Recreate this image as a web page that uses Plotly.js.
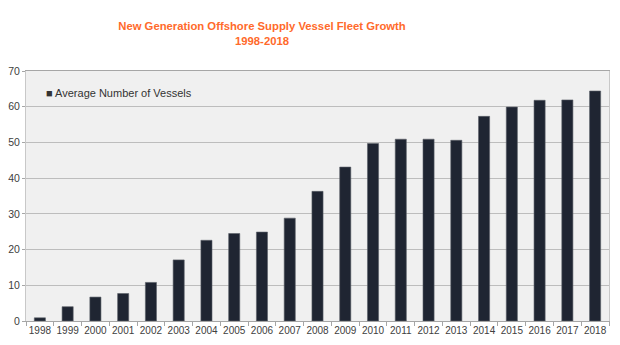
<!DOCTYPE html>
<html>
<head>
<meta charset="utf-8">
<script src="https://cdn.plot.ly/plotly-3.0.1.min.js"></script>
<style>html,body{margin:0;padding:0;background:#fff;}#chart{width:620px;height:345px;}</style>
</head>
<body>
<div id="chart"></div>
<script>
const years = ["1998","1999","2000","2001","2002","2003","2004","2005","2006","2007","2008","2009","2010","2011","2012","2013","2014","2015","2016","2017","2018"];
const vessels = [0.9, 4.0, 6.7, 7.7, 10.8, 17.1, 22.6, 24.5, 24.9, 28.8, 36.3, 43.1, 49.7, 50.9, 50.9, 50.6, 57.3, 59.9, 61.8, 61.9, 64.4];
const seriesName = "Average Number of Vessels";
const yTicks = [0,10,20,30,40,50,60,70];

const trace = {
  type: "bar",
  x: years,
  y: vessels,
  name: seriesName,
  marker: {color: "#1f2532", line: {color: "#5a5f68", width: 0.6}},
  showlegend: false,
  hoverinfo: "x+y"
};

const layout = {
  width: 620, height: 345,
  margin: {l: 26, r: 11, t: 71, b: 24, pad: 0},
  paper_bgcolor: "#ffffff",
  plot_bgcolor: "#f0f0f0",
  font: {family: "Liberation Sans, Arial, sans-serif", size: 11, color: "#404040"},
  title: {
    text: "<b>New Generation Offshore Supply Vessel Fleet Growth<br>1998-2018</b>",
    font: {family: "Liberation Sans, Arial, sans-serif", size: 11.3, color: "#ff6a2b"},
    x: 262/620, xref: "container", xanchor: "center",
    y: 1 - 30/345, yanchor: "middle"
  },
  bargap: 0.6,
  xaxis: {
    type: "category",
    tickson: "boundaries",
    tickangle: 0,
    ticks: "outside", ticklen: 4, tickcolor: "#a6a6a6",
    showline: true, linecolor: "#a6a6a6", linewidth: 1, mirror: true,
    showgrid: false,
    tickfont: {size: 10, color: "#404040"},
    fixedrange: true
  },
  yaxis: {
    range: [0, 70],
    tickvals: yTicks,
    ticks: "outside", ticklen: 3, tickcolor: "#a6a6a6",
    showline: true, linecolor: "#c8c8c8", linewidth: 1, mirror: true,
    showgrid: true, gridcolor: "#bdbdbd", gridwidth: 1,
    zeroline: false,
    tickfont: {size: 10.5, color: "#404040"},
    fixedrange: true
  },
  showlegend: false,
  annotations: [{
    text: "■ " + seriesName,
    xref: "paper", yref: "paper",
    x: 18/583, y: (321-93)/250,
    xanchor: "left", yanchor: "middle",
    showarrow: false,
    font: {size: 11, color: "#333333"}
  }]
};

Plotly.newPlot("chart", [trace], layout, {displayModeBar: false, staticPlot: true});
</script>
</body>
</html>
